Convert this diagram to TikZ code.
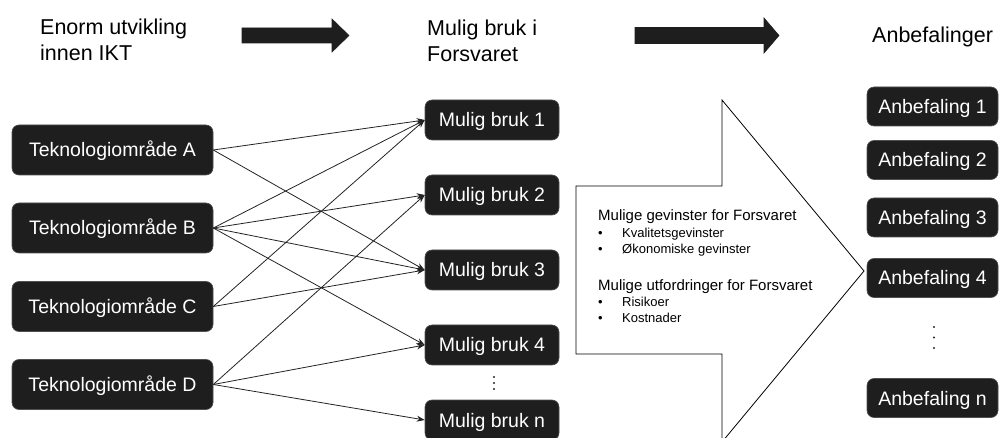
\documentclass[tikz,border=0pt]{standalone}
\usepackage{fontspec}
\setmainfont{Liberation Sans}
\usetikzlibrary{arrows.meta}
\definecolor{boxfill}{RGB}{30,30,30}
\definecolor{boxedge}{RGB}{80,80,80}
\definecolor{linecol}{RGB}{35,35,35}
\begin{document}
\begin{tikzpicture}[x=1pt,y=-1pt,
  box/.style={draw=boxedge, line width=0.6pt, fill=boxfill, rounded corners=7pt,
    text=white, inner sep=0pt, text height=14pt, text depth=0pt,
    font=\fontsize{19.5}{22}\selectfont},
  lbox/.style={box, minimum width=201pt, minimum height=50pt},
  mbox/.style={box, minimum width=134pt, minimum height=40pt},
  rbox/.style={box, minimum width=131pt, minimum height=39pt},
  conn/.style={draw=linecol, line width=0.8pt, -{Stealth[length=8pt,width=6pt]}},
  hdr/.style={font=\fontsize{21.5}{26}\selectfont, align=left, inner sep=0pt, anchor=north west},
  bigarrow/.style={draw=boxfill, fill=boxfill, line width=0.6pt},
  dotmark/.style={fill=linecol, draw=none},
]
\useasboundingbox (0,0) rectangle (999,438);

% headers
\node[hdr] (h1) at (40,18.3) {Enorm utvikling\\innen IKT};
\node[hdr] (h2) at (427,19.3) {Mulig bruk i\\Forsvaret};
\node[hdr] (h3) at (872,26.5) {Anbefalinger};

% header arrows
\draw[bigarrow] (242,28) -- (332,28) -- (332,19) -- (349,35.5) -- (332,52) -- (332,43) -- (242,43) -- cycle;
\draw[bigarrow] (635,27.5) -- (764,27.5) -- (764,18) -- (779,35.5) -- (764,53) -- (764,43.5) -- (635,43.5) -- cycle;

% left boxes
\node[lbox] (A) at (112.5,150) {Teknologiområde A};
\node[lbox] (B) at (112.5,228) {Teknologiområde B};
\node[lbox] (C) at (112.5,306.5) {Teknologiområde C};
\node[lbox] (D) at (112.5,384.5) {Teknologiområde D};

% middle boxes
\node[mbox] (m1) at (492,120) {Mulig bruk 1};
\node[mbox] (m2) at (492,195) {Mulig bruk 2};
\node[mbox] (m3) at (492,270) {Mulig bruk 3};
\node[mbox] (m4) at (492,345) {Mulig bruk 4};
\node[mbox] (mn) at (492,420) {Mulig bruk n};

\fill[dotmark] (494,377) circle (1.2) (494,383) circle (1.2) (494,389) circle (1.2);

% connectors
\draw[conn] (A.east) -- (m1.west);
\draw[conn] (A.east) -- (m3.west);
\draw[conn] (B.east) -- (m1.west);
\draw[conn] (B.east) -- (m2.west);
\draw[conn] (B.east) -- (m3.west);
\draw[conn] (B.east) -- (m4.west);
\draw[conn] (C.east) -- (m1.west);
\draw[conn] (C.east) -- (m3.west);
\draw[conn] (D.east) -- (m2.west);
\draw[conn] (D.east) -- (m4.west);
\draw[conn] (D.east) -- (mn.west);

% big arrow
\draw[fill=white, draw=black, line width=0.8pt] (576,186) -- (722,186) -- (722,100) -- (864,271) -- (722,442) -- (722,354) -- (576,354) -- cycle;
\node[anchor=north west, inner sep=0pt, align=left, font=\fontsize{13}{16}\selectfont] (gain) at (598,209.5)
  {{\fontsize{15}{16}\selectfont Mulige gevinster for Forsvaret}\\[0.5pt]
   \makebox[24pt][l]{•}Kvalitetsgevinster\\
   \makebox[24pt][l]{•}Økonomiske gevinster\\[21pt]
   {\fontsize{15}{16}\selectfont Mulige utfordringer for Forsvaret}\\[0.5pt]
   \makebox[24pt][l]{•}Risikoer\\
   \makebox[24pt][l]{•}Kostnader};

% right boxes
\node[rbox] (r1) at (932.5,106.5) {Anbefaling 1};
\node[rbox] (r2) at (932.5,160) {Anbefaling 2};
\node[rbox] (r3) at (932.5,217.5) {Anbefaling 3};
\node[rbox] (r4) at (932.5,278) {Anbefaling 4};
\node[rbox] (rn) at (932.5,398) {Anbefaling n};

\fill[dotmark] (934,327) circle (1.2) (934,337.5) circle (1.2) (934,348) circle (1.2);
\end{tikzpicture}
\end{document}
